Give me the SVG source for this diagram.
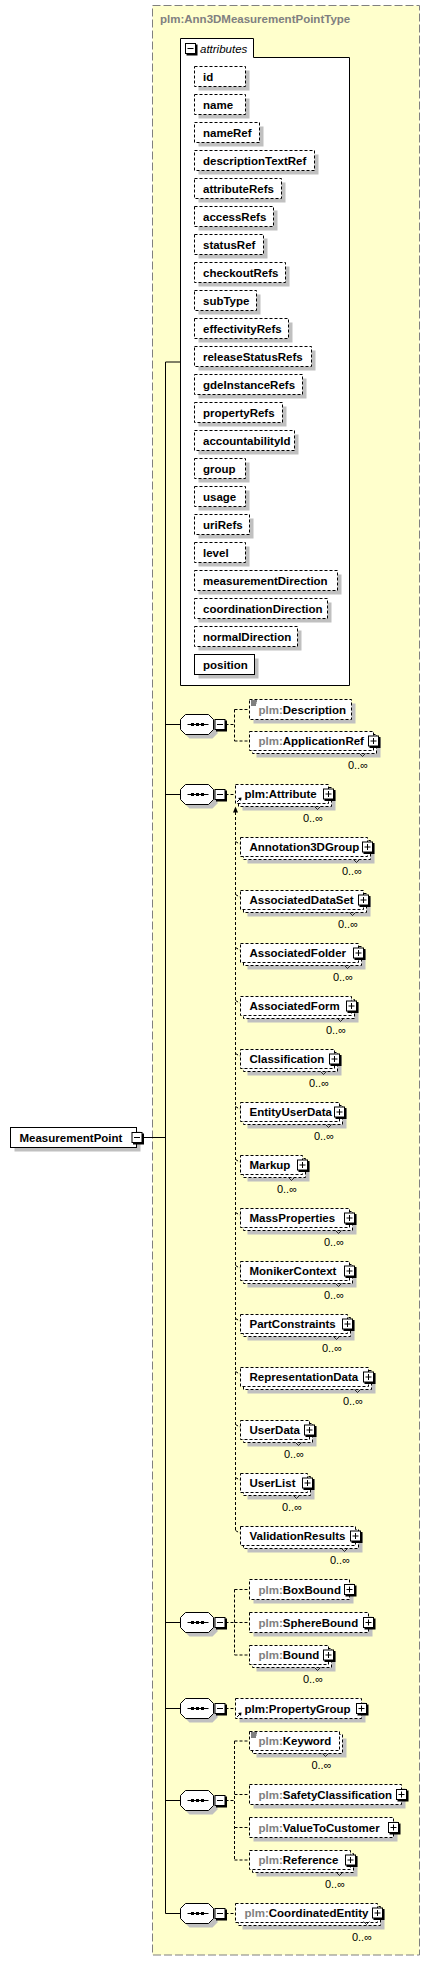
<svg xmlns="http://www.w3.org/2000/svg" xmlns:xlink="http://www.w3.org/1999/xlink" width="430" height="1961" viewBox="0 0 430 1961">
<style>
.t{font-family:"Liberation Sans",Arial,sans-serif;font-size:11.5px;font-weight:bold;fill:#000}
.g{fill:#808080}
.it{font-family:"Liberation Sans",Arial,sans-serif;font-size:11.5px;font-style:italic;fill:#000}
.m{font-family:"Liberation Sans",Arial,sans-serif;font-size:11px;fill:#000;text-anchor:end}
.sh{fill:#c0c0c0}
.bx{fill:#fff;stroke:#000;stroke-dasharray:3,2}
.sb{fill:#fff;stroke:#000}
.dl{fill:none;stroke:#000;stroke-dasharray:3,2}
.sl{fill:none;stroke:#000}
.tk{fill:none;stroke:#000;stroke-width:0.8}
</style>
<defs>
<g id="plus"><rect x="-4.5" y="-4.5" width="11" height="11" fill="#000"/><rect x="-5.5" y="-5.5" width="10" height="10" fill="#fff" stroke="#000"/><path d="M-3.5,-0.5H2.5M-0.5,-3.5V2.5" stroke="#000"/></g>
<g id="minus"><rect x="-4.5" y="-4.5" width="11" height="11" fill="#000"/><rect x="-5.5" y="-5.5" width="10" height="10" fill="#fff" stroke="#000"/><path d="M-3.5,-0.5H2.5" stroke="#000"/></g>
<g id="seq"><polygon points="9,4 32,4 37,9 37,19 32,24 9,24 4,19 4,9" fill="#c0c0c0"/><polygon points="5,0 28,0 33,5 33,15 28,20 5,20 0,15 0,5" fill="#fff" stroke="#000"/><path d="M7,10H28" stroke="#000"/><rect x="10.5" y="8.5" width="3" height="3"/><rect x="15.5" y="8.5" width="3" height="3"/><rect x="20.5" y="8.5" width="3" height="3"/><use xlink:href="#minus" href="#minus" x="40" y="10.5"/></g>
<g id="ann"><rect x="0" y="0" width="7" height="6" fill="#fff"/><path d="M1,1H7M1,3H6.5M1,5H6" stroke="#000"/></g>
<g id="ref"><path d="M1.5,5.5L5,2" stroke="#000"/><polygon points="6,1 2.5,1.5 5.5,4.5" fill="#000"/></g>
</defs>

<g id="type">
<rect x="152.5" y="5.5" width="267" height="1949.5" fill="#ffffcc" stroke="#808080" stroke-dasharray="8,3"/>
<text class="t g" x="160" y="23">plm:Ann3DMeasurementPointType</text>
</g>

<g id="connectors">
<path class="sl" d="M165.5,362V1913.5M165.5,362H180.5M165.5,724.5H180.5M165.5,794.5H180.5M165.5,1622.5H180.5M165.5,1708.5H180.5M165.5,1800.5H180.5M165.5,1913.5H180.5M142.5,1137.5H165.5"/>
<path class="dl" d="M225.5,724.5H234.5M234.5,709.5V741M234.5,709.5H249.5M234.5,741H249.5"/>
<path class="dl" d="M225.5,794.5H235.5"/>
<path class="dl" d="M235.5,812V1531.5"/>
<polygon points="235.5,806.5 233,812.5 238,812.5" fill="#000"/>
<path class="dl" d="M235.5,841.5L240.5,844.5M235.5,894.5L240.5,897.5M235.5,947.5L240.5,950.5M235.5,1000.5L240.5,1003.5M235.5,1053.5L240.5,1056.5M235.5,1106.5L240.5,1109.5M235.5,1159.5L240.5,1162.5M235.5,1212.5L240.5,1215.5M235.5,1265.5L240.5,1268.5M235.5,1318.5L240.5,1321.5M235.5,1371.5L240.5,1374.5M235.5,1424.5L240.5,1427.5M235.5,1477.5L240.5,1480.5M235.5,1530.5L240.5,1533.5"/>
<path class="dl" d="M225.5,1622.5H234.5M234.5,1589.5V1655M234.5,1589.5H249.5M234.5,1622.5H249.5M234.5,1655H249.5"/>
<path class="dl" d="M225.5,1708.5H235.5"/>
<path class="dl" d="M225.5,1800.5H234.5M234.5,1741V1860M234.5,1741H249.5M234.5,1794.5H249.5M234.5,1827.5H249.5M234.5,1860H249.5"/>
<path class="dl" d="M225.5,1913.5H235.5"/>
</g>

<g id="MeasurementPoint">
<rect class="sh" x="14.5" y="1131.5" width="126" height="20"/>
<rect class="sb" x="10.5" y="1127.5" width="126" height="20"/>
<text class="t" x="19.5" y="1141.5">MeasurementPoint</text>
<use xlink:href="#minus" href="#minus" x="137.5" y="1138"/>
</g>

<g id="attributes">
<polygon points="180.5,38.5 253.5,38.5 253.5,57.5 349.5,57.5 349.5,685.5 180.5,685.5" fill="#fff" stroke="#000"/>
<use xlink:href="#minus" href="#minus" x="191" y="49"/>
<text class="it" x="200" y="52.5">attributes</text>
<g id="attr-id"><rect class="sh" x="198.5" y="70.5" width="51" height="20"/><rect class="bx" x="194.5" y="66.5" width="51" height="20"/><text class="t" x="203" y="80.5">id</text></g>
<g id="attr-name"><rect class="sh" x="198.5" y="98.5" width="51" height="20"/><rect class="bx" x="194.5" y="94.5" width="51" height="20"/><text class="t" x="203" y="108.5">name</text></g>
<g id="attr-nameRef"><rect class="sh" x="198.5" y="126.5" width="65" height="20"/><rect class="bx" x="194.5" y="122.5" width="65" height="20"/><text class="t" x="203" y="136.5">nameRef</text></g>
<g id="attr-descriptionTextRef"><rect class="sh" x="198.5" y="154.5" width="120" height="20"/><rect class="bx" x="194.5" y="150.5" width="120" height="20"/><text class="t" x="203" y="164.5">descriptionTextRef</text></g>
<g id="attr-attributeRefs"><rect class="sh" x="198.5" y="182.5" width="87" height="20"/><rect class="bx" x="194.5" y="178.5" width="87" height="20"/><text class="t" x="203" y="192.5">attributeRefs</text></g>
<g id="attr-accessRefs"><rect class="sh" x="198.5" y="210.5" width="79" height="20"/><rect class="bx" x="194.5" y="206.5" width="79" height="20"/><text class="t" x="203" y="220.5">accessRefs</text></g>
<g id="attr-statusRef"><rect class="sh" x="198.5" y="238.5" width="69" height="20"/><rect class="bx" x="194.5" y="234.5" width="69" height="20"/><text class="t" x="203" y="248.5">statusRef</text></g>
<g id="attr-checkoutRefs"><rect class="sh" x="198.5" y="266.5" width="91" height="20"/><rect class="bx" x="194.5" y="262.5" width="91" height="20"/><text class="t" x="203" y="276.5">checkoutRefs</text></g>
<g id="attr-subType"><rect class="sh" x="198.5" y="294.5" width="62" height="20"/><rect class="bx" x="194.5" y="290.5" width="62" height="20"/><text class="t" x="203" y="304.5">subType</text></g>
<g id="attr-effectivityRefs"><rect class="sh" x="198.5" y="322.5" width="94" height="20"/><rect class="bx" x="194.5" y="318.5" width="94" height="20"/><text class="t" x="203" y="332.5">effectivityRefs</text></g>
<g id="attr-releaseStatusRefs"><rect class="sh" x="198.5" y="350.5" width="117" height="20"/><rect class="bx" x="194.5" y="346.5" width="117" height="20"/><text class="t" x="203" y="360.5">releaseStatusRefs</text></g>
<g id="attr-gdeInstanceRefs"><rect class="sh" x="198.5" y="378.5" width="108" height="20"/><rect class="bx" x="194.5" y="374.5" width="108" height="20"/><text class="t" x="203" y="388.5">gdeInstanceRefs</text></g>
<g id="attr-propertyRefs"><rect class="sh" x="198.5" y="406.5" width="88" height="20"/><rect class="bx" x="194.5" y="402.5" width="88" height="20"/><text class="t" x="203" y="416.5">propertyRefs</text></g>
<g id="attr-accountabilityId"><rect class="sh" x="198.5" y="434.5" width="100" height="20"/><rect class="bx" x="194.5" y="430.5" width="100" height="20"/><text class="t" x="203" y="444.5">accountabilityId</text></g>
<g id="attr-group"><rect class="sh" x="198.5" y="462.5" width="51" height="20"/><rect class="bx" x="194.5" y="458.5" width="51" height="20"/><text class="t" x="203" y="472.5">group</text></g>
<g id="attr-usage"><rect class="sh" x="198.5" y="490.5" width="51" height="20"/><rect class="bx" x="194.5" y="486.5" width="51" height="20"/><text class="t" x="203" y="500.5">usage</text></g>
<g id="attr-uriRefs"><rect class="sh" x="198.5" y="518.5" width="55" height="20"/><rect class="bx" x="194.5" y="514.5" width="55" height="20"/><text class="t" x="203" y="528.5">uriRefs</text></g>
<g id="attr-level"><rect class="sh" x="198.5" y="546.5" width="51" height="20"/><rect class="bx" x="194.5" y="542.5" width="51" height="20"/><text class="t" x="203" y="556.5">level</text></g>
<g id="attr-measurementDirection"><rect class="sh" x="198.5" y="574.5" width="143" height="20"/><rect class="bx" x="194.5" y="570.5" width="143" height="20"/><text class="t" x="203" y="584.5">measurementDirection</text></g>
<g id="attr-coordinationDirection"><rect class="sh" x="198.5" y="602.5" width="133" height="20"/><rect class="bx" x="194.5" y="598.5" width="133" height="20"/><text class="t" x="203" y="612.5">coordinationDirection</text></g>
<g id="attr-normalDirection"><rect class="sh" x="198.5" y="630.5" width="103" height="20"/><rect class="bx" x="194.5" y="626.5" width="103" height="20"/><text class="t" x="203" y="640.5">normalDirection</text></g>
<g id="attr-position"><rect class="sh" x="198.5" y="658.5" width="60" height="20"/><rect class="sb" x="194.5" y="654.5" width="60" height="20"/><text class="t" x="203" y="668.5">position</text></g>
</g>

<g id="seq1"><use xlink:href="#seq" href="#seq" x="180.5" y="714.5"/></g>
<g id="seq2"><use xlink:href="#seq" href="#seq" x="180.5" y="784.5"/></g>
<g id="seq3"><use xlink:href="#seq" href="#seq" x="180.5" y="1612.5"/></g>
<g id="seq4"><use xlink:href="#seq" href="#seq" x="180.5" y="1698.5"/></g>
<g id="seq5"><use xlink:href="#seq" href="#seq" x="180.5" y="1790.5"/></g>
<g id="seq6"><use xlink:href="#seq" href="#seq" x="180.5" y="1903.5"/></g>

<g id="Description"><rect class="sh" x="253.5" y="703.5" width="102" height="20"/><rect class="bx" x="249.5" y="699.5" width="102" height="20"/><use xlink:href="#ann" href="#ann" x="250" y="700"/><text class="t" x="258.5" y="713.5"><tspan class="g">plm:</tspan>Description</text></g>

<g id="ApplicationRef"><rect class="sh" x="256.5" y="738.5" width="124" height="19"/><rect class="bx" x="252.5" y="734.5" width="124" height="19"/><rect class="bx" x="249.5" y="731.5" width="124" height="19"/><use xlink:href="#plus" href="#plus" x="374" y="741.5"/><text class="t" x="258.5" y="745"><tspan class="g">plm:</tspan>ApplicationRef</text><path class="tk" d="M359.5,753.5L362.5,756.5L365.5,753.5"/><text class="m" x="368" y="769">0..∞</text></g>

<g id="Attribute"><rect class="sh" x="242.5" y="791.5" width="93" height="19"/><rect class="bx" x="238.5" y="787.5" width="93" height="19"/><rect class="bx" x="235.5" y="784.5" width="93" height="19"/><use xlink:href="#plus" href="#plus" x="329" y="794.5"/><use xlink:href="#ref" href="#ref" x="235.5" y="796.5"/><text class="t" x="244.5" y="798">plm:Attribute</text><path class="tk" d="M314.5,806.5L317.5,809.5L320.5,806.5"/><text class="m" x="323" y="821.5">0..∞</text></g>

<g id="Annotation3DGroup"><rect class="sh" x="247.5" y="844.5" width="127" height="19"/><rect class="bx" x="243.5" y="840.5" width="127" height="19"/><rect class="bx" x="240.5" y="837.5" width="127" height="19"/><use xlink:href="#plus" href="#plus" x="368" y="847.5"/><text class="t" x="249.5" y="851">Annotation3DGroup</text><path class="tk" d="M353.5,859.5L356.5,862.5L359.5,859.5"/><text class="m" x="362" y="875">0..∞</text></g>

<g id="AssociatedDataSet"><rect class="sh" x="247.5" y="897.5" width="123" height="19"/><rect class="bx" x="243.5" y="893.5" width="123" height="19"/><rect class="bx" x="240.5" y="890.5" width="123" height="19"/><use xlink:href="#plus" href="#plus" x="364" y="900.5"/><text class="t" x="249.5" y="904">AssociatedDataSet</text><path class="tk" d="M349.5,912.5L352.5,915.5L355.5,912.5"/><text class="m" x="358" y="928">0..∞</text></g>

<g id="AssociatedFolder"><rect class="sh" x="247.5" y="950.5" width="118" height="19"/><rect class="bx" x="243.5" y="946.5" width="118" height="19"/><rect class="bx" x="240.5" y="943.5" width="118" height="19"/><use xlink:href="#plus" href="#plus" x="359" y="953.5"/><text class="t" x="249.5" y="957">AssociatedFolder</text><path class="tk" d="M344.5,965.5L347.5,968.5L350.5,965.5"/><text class="m" x="353" y="981">0..∞</text></g>

<g id="AssociatedForm"><rect class="sh" x="247.5" y="1003.5" width="111" height="19"/><rect class="bx" x="243.5" y="999.5" width="111" height="19"/><rect class="bx" x="240.5" y="996.5" width="111" height="19"/><use xlink:href="#plus" href="#plus" x="352" y="1006.5"/><text class="t" x="249.5" y="1010">AssociatedForm</text><path class="tk" d="M337.5,1018.5L340.5,1021.5L343.5,1018.5"/><text class="m" x="346" y="1034">0..∞</text></g>

<g id="Classification"><rect class="sh" x="247.5" y="1056.5" width="94" height="19"/><rect class="bx" x="243.5" y="1052.5" width="94" height="19"/><rect class="bx" x="240.5" y="1049.5" width="94" height="19"/><use xlink:href="#plus" href="#plus" x="335" y="1059.5"/><text class="t" x="249.5" y="1063">Classification</text><path class="tk" d="M320.5,1071.5L323.5,1074.5L326.5,1071.5"/><text class="m" x="329" y="1087">0..∞</text></g>

<g id="EntityUserData"><rect class="sh" x="247.5" y="1109.5" width="99" height="19"/><rect class="bx" x="243.5" y="1105.5" width="99" height="19"/><rect class="bx" x="240.5" y="1102.5" width="99" height="19"/><use xlink:href="#plus" href="#plus" x="340" y="1112.5"/><text class="t" x="249.5" y="1116">EntityUserData</text><path class="tk" d="M325.5,1124.5L328.5,1127.5L331.5,1124.5"/><text class="m" x="334" y="1140">0..∞</text></g>

<g id="Markup"><rect class="sh" x="247.5" y="1162.5" width="62" height="19"/><rect class="bx" x="243.5" y="1158.5" width="62" height="19"/><rect class="bx" x="240.5" y="1155.5" width="62" height="19"/><use xlink:href="#plus" href="#plus" x="303" y="1165.5"/><text class="t" x="249.5" y="1169">Markup</text><path class="tk" d="M288.5,1177.5L291.5,1180.5L294.5,1177.5"/><text class="m" x="297" y="1193">0..∞</text></g>

<g id="MassProperties"><rect class="sh" x="247.5" y="1215.5" width="109" height="19"/><rect class="bx" x="243.5" y="1211.5" width="109" height="19"/><rect class="bx" x="240.5" y="1208.5" width="109" height="19"/><use xlink:href="#plus" href="#plus" x="350" y="1218.5"/><text class="t" x="249.5" y="1222">MassProperties</text><path class="tk" d="M335.5,1230.5L338.5,1233.5L341.5,1230.5"/><text class="m" x="344" y="1246">0..∞</text></g>

<g id="MonikerContext"><rect class="sh" x="247.5" y="1268.5" width="109" height="19"/><rect class="bx" x="243.5" y="1264.5" width="109" height="19"/><rect class="bx" x="240.5" y="1261.5" width="109" height="19"/><use xlink:href="#plus" href="#plus" x="350" y="1271.5"/><text class="t" x="249.5" y="1275">MonikerContext</text><path class="tk" d="M335.5,1283.5L338.5,1286.5L341.5,1283.5"/><text class="m" x="344" y="1299">0..∞</text></g>

<g id="PartConstraints"><rect class="sh" x="247.5" y="1321.5" width="107" height="19"/><rect class="bx" x="243.5" y="1317.5" width="107" height="19"/><rect class="bx" x="240.5" y="1314.5" width="107" height="19"/><use xlink:href="#plus" href="#plus" x="348" y="1324.5"/><text class="t" x="249.5" y="1328">PartConstraints</text><path class="tk" d="M333.5,1336.5L336.5,1339.5L339.5,1336.5"/><text class="m" x="342" y="1352">0..∞</text></g>

<g id="RepresentationData"><rect class="sh" x="247.5" y="1374.5" width="128" height="19"/><rect class="bx" x="243.5" y="1370.5" width="128" height="19"/><rect class="bx" x="240.5" y="1367.5" width="128" height="19"/><use xlink:href="#plus" href="#plus" x="369" y="1377.5"/><text class="t" x="249.5" y="1381">RepresentationData</text><path class="tk" d="M354.5,1389.5L357.5,1392.5L360.5,1389.5"/><text class="m" x="363" y="1405">0..∞</text></g>

<g id="UserData"><rect class="sh" x="247.5" y="1427.5" width="69" height="19"/><rect class="bx" x="243.5" y="1423.5" width="69" height="19"/><rect class="bx" x="240.5" y="1420.5" width="69" height="19"/><use xlink:href="#plus" href="#plus" x="310" y="1430.5"/><text class="t" x="249.5" y="1434">UserData</text><path class="tk" d="M295.5,1442.5L298.5,1445.5L301.5,1442.5"/><text class="m" x="304" y="1458">0..∞</text></g>

<g id="UserList"><rect class="sh" x="247.5" y="1480.5" width="67" height="19"/><rect class="bx" x="243.5" y="1476.5" width="67" height="19"/><rect class="bx" x="240.5" y="1473.5" width="67" height="19"/><use xlink:href="#plus" href="#plus" x="308" y="1483.5"/><text class="t" x="249.5" y="1487">UserList</text><path class="tk" d="M293.5,1495.5L296.5,1498.5L299.5,1495.5"/><text class="m" x="302" y="1511">0..∞</text></g>

<g id="ValidationResults"><rect class="sh" x="247.5" y="1533.5" width="115" height="19"/><rect class="bx" x="243.5" y="1529.5" width="115" height="19"/><rect class="bx" x="240.5" y="1526.5" width="115" height="19"/><use xlink:href="#plus" href="#plus" x="356" y="1536.5"/><text class="t" x="249.5" y="1540">ValidationResults</text><path class="tk" d="M341.5,1548.5L344.5,1551.5L347.5,1548.5"/><text class="m" x="350" y="1564">0..∞</text></g>

<g id="BoxBound"><rect class="sh" x="253.5" y="1583.5" width="100" height="20"/><rect class="bx" x="249.5" y="1579.5" width="100" height="20"/><use xlink:href="#plus" href="#plus" x="350" y="1590"/><text class="t" x="258.5" y="1593.5"><tspan class="g">plm:</tspan>BoxBound</text></g>

<g id="SphereBound"><rect class="sh" x="253.5" y="1616.5" width="119" height="20"/><rect class="bx" x="249.5" y="1612.5" width="119" height="20"/><use xlink:href="#plus" href="#plus" x="369" y="1623"/><text class="t" x="258.5" y="1626.5"><tspan class="g">plm:</tspan>SphereBound</text></g>

<g id="Bound"><rect class="sh" x="256.5" y="1652.5" width="79" height="19"/><rect class="bx" x="252.5" y="1648.5" width="79" height="19"/><rect class="bx" x="249.5" y="1645.5" width="79" height="19"/><use xlink:href="#plus" href="#plus" x="329" y="1655.5"/><text class="t" x="258.5" y="1659"><tspan class="g">plm:</tspan>Bound</text><path class="tk" d="M314.5,1667.5L317.5,1670.5L320.5,1667.5"/><text class="m" x="323" y="1683">0..∞</text></g>

<g id="PropertyGroup"><rect class="sh" x="239.5" y="1702.5" width="126" height="20"/><rect class="bx" x="235.5" y="1698.5" width="126" height="20"/><use xlink:href="#plus" href="#plus" x="362" y="1709"/><use xlink:href="#ref" href="#ref" x="235.5" y="1711.5"/><text class="t" x="244.5" y="1712.5">plm:PropertyGroup</text></g>

<g id="Keyword"><rect class="sh" x="256.5" y="1738.5" width="90" height="19"/><rect class="bx" x="252.5" y="1734.5" width="90" height="19"/><rect class="bx" x="249.5" y="1731.5" width="90" height="19"/><use xlink:href="#ann" href="#ann" x="250" y="1732"/><text class="t" x="258.5" y="1745"><tspan class="g">plm:</tspan>Keyword</text><path class="tk" d="M322.5,1753.5L325.5,1756.5L328.5,1753.5"/><text class="m" x="331.5" y="1768.5">0..∞</text></g>

<g id="SafetyClassification"><rect class="sh" x="253.5" y="1788.5" width="152" height="20"/><rect class="bx" x="249.5" y="1784.5" width="152" height="20"/><use xlink:href="#plus" href="#plus" x="402" y="1795"/><text class="t" x="258.5" y="1798.5"><tspan class="g">plm:</tspan>SafetyClassification</text></g>

<g id="ValueToCustomer"><rect class="sh" x="253.5" y="1821.5" width="144" height="20"/><rect class="bx" x="249.5" y="1817.5" width="144" height="20"/><use xlink:href="#plus" href="#plus" x="394" y="1828"/><text class="t" x="258.5" y="1831.5"><tspan class="g">plm:</tspan>ValueToCustomer</text></g>

<g id="Reference"><rect class="sh" x="256.5" y="1857.5" width="101" height="19"/><rect class="bx" x="252.5" y="1853.5" width="101" height="19"/><rect class="bx" x="249.5" y="1850.5" width="101" height="19"/><use xlink:href="#plus" href="#plus" x="351" y="1860.5"/><text class="t" x="258.5" y="1864"><tspan class="g">plm:</tspan>Reference</text><path class="tk" d="M336.5,1872.5L339.5,1875.5L342.5,1872.5"/><text class="m" x="345" y="1888">0..∞</text></g>

<g id="CoordinatedEntity"><rect class="sh" x="242.5" y="1910.5" width="142" height="19"/><rect class="bx" x="238.5" y="1906.5" width="142" height="19"/><rect class="bx" x="235.5" y="1903.5" width="142" height="19"/><use xlink:href="#plus" href="#plus" x="378" y="1913.5"/><text class="t" x="244.5" y="1917"><tspan class="g">plm:</tspan>CoordinatedEntity</text><path class="tk" d="M363.5,1921.5L366.5,1924.5L369.5,1921.5"/><text class="m" x="372" y="1941">0..∞</text></g>
</svg>
